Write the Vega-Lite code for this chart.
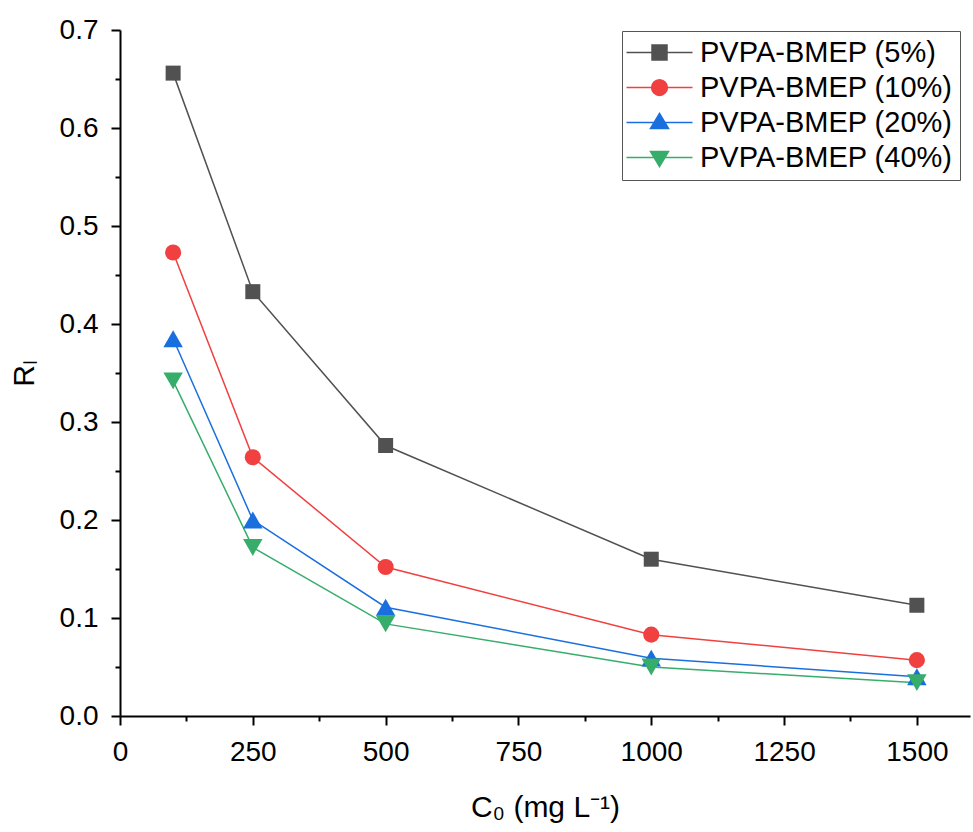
{
  "$schema": "https://vega.github.io/schema/vega-lite/v6.json",
  "width": 850,
  "height": 686,
  "autosize": {"type": "none"},
  "padding": {"left": 120, "top": 30, "right": 3, "bottom": 116},
  "background": "white",
  "config": {
    "view": {"stroke": null},
    "font": "Liberation Sans"
  },
  "data": {"values": [
    {"c": 100, "rl": 0.656, "s": "PVPA-BMEP (5%)"},
    {"c": 250, "rl": 0.433, "s": "PVPA-BMEP (5%)"},
    {"c": 500, "rl": 0.276, "s": "PVPA-BMEP (5%)"},
    {"c": 1000, "rl": 0.160, "s": "PVPA-BMEP (5%)"},
    {"c": 1500, "rl": 0.113, "s": "PVPA-BMEP (5%)"},
    {"c": 100, "rl": 0.473, "s": "PVPA-BMEP (10%)"},
    {"c": 250, "rl": 0.264, "s": "PVPA-BMEP (10%)"},
    {"c": 500, "rl": 0.152, "s": "PVPA-BMEP (10%)"},
    {"c": 1000, "rl": 0.083, "s": "PVPA-BMEP (10%)"},
    {"c": 1500, "rl": 0.057, "s": "PVPA-BMEP (10%)"},
    {"c": 100, "rl": 0.385, "s": "PVPA-BMEP (20%)"},
    {"c": 250, "rl": 0.200, "s": "PVPA-BMEP (20%)"},
    {"c": 500, "rl": 0.111, "s": "PVPA-BMEP (20%)"},
    {"c": 1000, "rl": 0.059, "s": "PVPA-BMEP (20%)"},
    {"c": 1500, "rl": 0.040, "s": "PVPA-BMEP (20%)"},
    {"c": 100, "rl": 0.342, "s": "PVPA-BMEP (40%)"},
    {"c": 250, "rl": 0.172, "s": "PVPA-BMEP (40%)"},
    {"c": 500, "rl": 0.094, "s": "PVPA-BMEP (40%)"},
    {"c": 1000, "rl": 0.050, "s": "PVPA-BMEP (40%)"},
    {"c": 1500, "rl": 0.034, "s": "PVPA-BMEP (40%)"}
  ]},
  "encoding": {
    "x": {"field": "c", "type": "quantitative", "scale": {"domain": [0, 1600], "nice": false, "zero": false},
      "axis": {"title": "C₀ (mg L⁻¹)", "values": [0,125,250,375,500,625,750,875,1000,1125,1250,1375,1500],
        "labelExpr": "datum.value % 250 === 0 ? datum.value : ''",
        "tickSize": {"condition": {"test": "datum.value % 250 === 0", "value": 9}, "value": 5},
        "grid": false, "domainColor": "black", "domainWidth": 2, "tickColor": "black", "tickWidth": 2,
        "labelFont": "Liberation Sans", "titleFont": "Liberation Sans", "labelColor": "black", "titleColor": "black",
        "labelFontSize": 28, "titleFontSize": 30, "titleFontWeight": "normal",
        "labelPadding": 13, "titlePadding": 26, "labelFlush": false}},
    "y": {"field": "rl", "type": "quantitative", "scale": {"domain": [0, 0.7], "nice": false},
      "axis": {"title": "Rₗ", "values": [0,0.05,0.1,0.15,0.2,0.25,0.3,0.35,0.4,0.45,0.5,0.55,0.6,0.65,0.7],
        "labelExpr": "abs(datum.value*10 - round(datum.value*10)) < 0.001 ? format(datum.value, '.1f') : ''",
        "tickSize": {"condition": {"test": "abs(datum.value*10 - round(datum.value*10)) < 0.001", "value": 9}, "value": 5},
        "grid": false, "domainColor": "black", "domainWidth": 2, "tickColor": "black", "tickWidth": 2,
        "labelFont": "Liberation Sans", "titleFont": "Liberation Sans", "labelColor": "black", "titleColor": "black",
        "labelFontSize": 28, "titleFontSize": 30, "titleFontWeight": "normal",
        "labelPadding": 13, "titlePadding": 20, "labelFlush": false}},
    "color": {"field": "s", "type": "nominal",
      "scale": {"domain": ["PVPA-BMEP (5%)", "PVPA-BMEP (10%)", "PVPA-BMEP (20%)", "PVPA-BMEP (40%)"], "range": ["#515151", "#F14040", "#1A6FDF", "#37AD6B"]},
      "legend": {"title": null, "orient": "none", "legendX": 502, "legendY": 1,
            "strokeColor": "#555555", "fillColor": "white", "padding": 7,
            "labelFontSize": 29, "labelFont": "Liberation Sans", "labelColor": "black", "labelLimit": 500,
            "symbolSize": 225, "symbolStrokeWidth": 1.5, "symbolOpacity": 1,
            "symbolOffset": 16, "labelOffset": 26, "rowPadding": 5,
            "encode": {"symbols": {
              "update": {
                "fill": {"scale": "color", "field": "value"},
                "stroke": {"scale": "color", "field": "value"},
                "strokeWidth": {"value": 1.5},
                "opacity": {"value": 1},
                "shape": {"signal": "datum.value === 'PVPA-BMEP (5%)' ? 'M-4.4,0H4.4M-1,-1H1V1H-1Z' : datum.value === 'PVPA-BMEP (10%)' ? 'M-4.4,0H4.4M1.05,0A1.05,1.05,0,1,1,-1.05,0A1.05,1.05,0,1,1,1.05,0Z' : datum.value === 'PVPA-BMEP (20%)' ? 'M-4.4,0H4.4M0,-1.2L1.2,0.8H-1.2Z' : 'M-4.4,0H4.4M0,1.2L1.2,-0.8H-1.2Z'"}}}}}
    }
  },
  "layer": [
    {"mark": {"type": "line", "strokeWidth": 1.5}, "encoding": {}},
    {"transform": [{"filter": "datum.s === 'PVPA-BMEP (5%)'"}],
      "mark": {"type": "point", "filled": true, "opacity": 1, "shape": "square", "size": 225}, "encoding": {}},
    {"transform": [{"filter": "datum.s === 'PVPA-BMEP (10%)'"}],
      "mark": {"type": "point", "filled": true, "opacity": 1, "shape": "circle", "size": 260}, "encoding": {}},
    {"transform": [{"filter": "datum.s === 'PVPA-BMEP (20%)'"}],
      "mark": {"type": "point", "filled": true, "opacity": 1, "shape": "triangle-up", "size": 380}, "encoding": {}},
    {"transform": [{"filter": "datum.s === 'PVPA-BMEP (40%)'"}],
      "mark": {"type": "point", "filled": true, "opacity": 1, "shape": "triangle-down", "size": 380}, "encoding": {}}
  ]
}
